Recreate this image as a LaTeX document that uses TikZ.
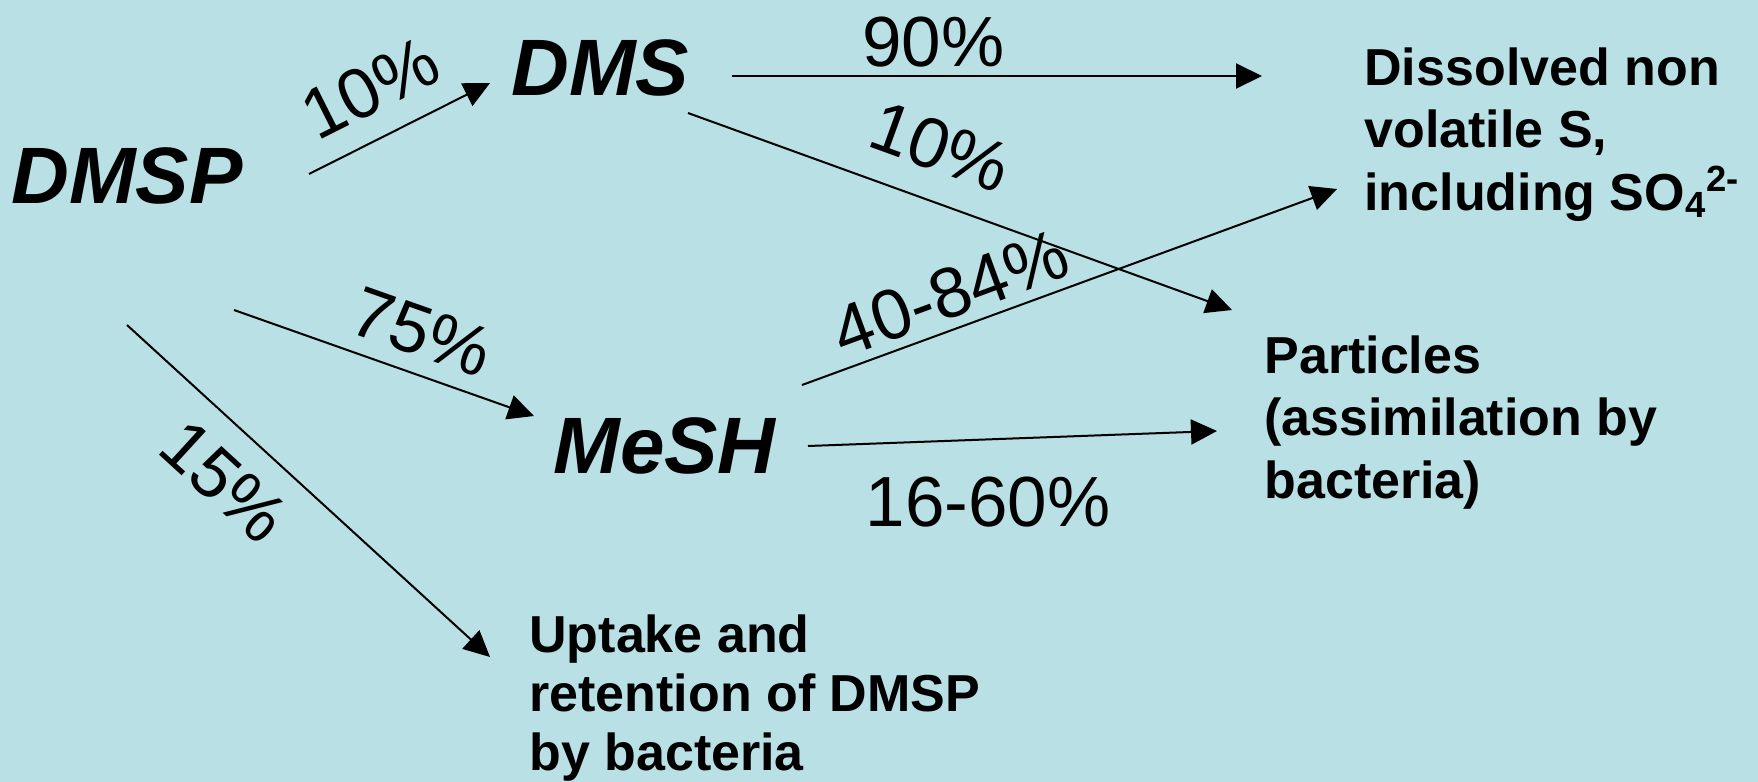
\documentclass[tikz,border=0pt]{standalone}
\usepackage{fontspec}
\setmainfont{Liberation Sans}
\usetikzlibrary{arrows.meta,calc}
\definecolor{seablue}{RGB}{185,224,228}
\tikzset{
	compound/.style={font=\fontsize{40}{48}\selectfont\bfseries\itshape, inner sep=0},
	sink/.style={font=\fontsize{26}{31.25}\selectfont\bfseries, align=left, inner sep=0},
	share/.style={font=\fontsize{35.5}{42}\selectfont},
	flow/.style={line width=1pt, -{Triangle[length=13pt,width=12.5pt]}}
}
\begin{document}
\begin{tikzpicture}[x=0.5pt,y=-0.5pt]
		\useasboundingbox (0,0) rectangle (1758,782);
		\fill[seablue] (0,0) rectangle (1758,782);

		\node[compound, anchor=base west] (dmsp) at (11,203) {DMSP};
		\node[compound, anchor=base west] (dms) at (511,95) {DMS};
		\node[compound, anchor=base west] (mesh) at (553,473) {MeSH};

		% multi-line nodes: base is the last line
		\node[sink, anchor=base west] (dissolved) at (1364,210) {Dissolved non\\volatile S,\\including SO\textsubscript{4}\textsuperscript{2-}};
		\node[sink, anchor=base west] (particles) at (1264,498) {Particles\\(assimilation by\\bacteria)};
		\node[sink, anchor=base west, font=\fontsize{26}{29.5}\selectfont\bfseries] (uptake) at (529,770) {Uptake and\\retention of DMSP\\by bacteria};

		% from DMSP
		\draw[flow] ($(dmsp.base west)+(298,-29)$) -- ($(dms.base west)+(-21,-12)$)
			node[share, pos=0.46, sloped, above, inner sep=11.5pt] {10\%};
		\draw[flow] ($(dmsp.base west)+(223,107)$) -- ($(mesh.base west)+(-19,-57)$)
			node[share, pos=0.58, sloped, above, inner sep=8pt] {75\%};
		\draw[flow] ($(dmsp.base west)+(116,122)$) -- ($(uptake.base west)+(-39,-113)$)
			node[share, pos=0.36, sloped, below, inner sep=12pt] {15\%};

		% from DMS
		\draw[flow] ($(dms.base west)+(221,-19)$) -- ($(dissolved.base west)+(-102,-134)$)
			node[share, pos=0.38, above, inner sep=4pt] {90\%};
		\draw[flow] ($(dms.base west)+(177,18)$) -- ($(particles.base west)+(-32,-188)$)
			node[share, pos=0.43, sloped, above, inner sep=14pt] {10\%};

		% from MeSH
		\draw[flow] ($(mesh.base west)+(249,-88)$) -- ($(dissolved.base west)+(-27,-21)$)
			node[share, pos=0.30, sloped, above, inner sep=4.5pt] {40-84\%};
		\draw[flow] ($(mesh.base west)+(255,-27)$) -- ($(particles.base west)+(-47,-67)$)
			node[share, pos=0.44, below, inner sep=18.5pt] {16-60\%};
\end{tikzpicture}
\end{document}
